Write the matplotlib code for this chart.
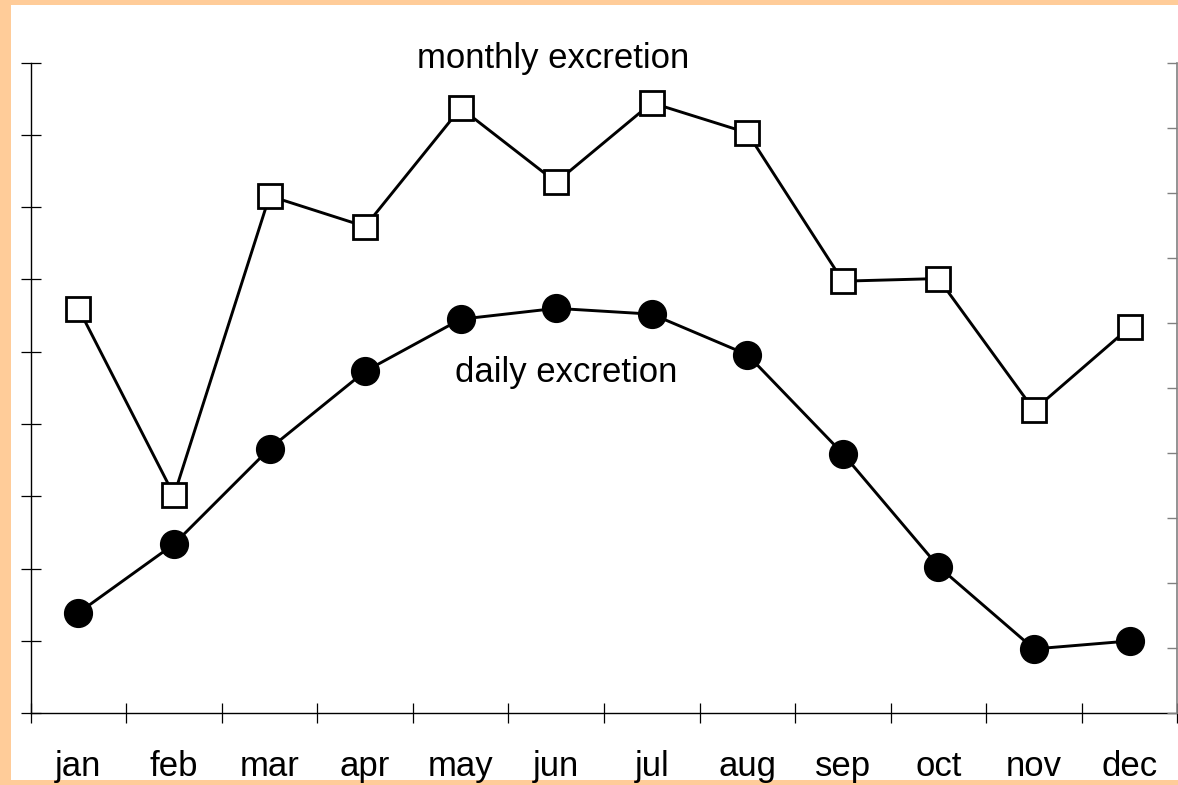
import numpy as np
import matplotlib.pyplot as plt
from matplotlib.patches import Rectangle

plt.rcParams['font.family'] = ['Liberation Sans', 'DejaVu Sans']

# 월별 데이터
months = ['jan', 'feb', 'mar', 'apr', 'may', 'jun',
          'jul', 'aug', 'sep', 'oct', 'nov', 'dec']
daily = [1.39, 2.34, 3.66, 4.73, 5.45, 5.60, 5.52, 4.96, 3.59, 2.03, 0.89, 1.00]      # 왼쪽 축 (0-9)
monthly = [6.22, 3.35, 7.95, 7.48, 9.30, 8.16, 9.38, 8.92, 6.64, 6.68, 4.66, 5.93]    # 오른쪽 축 (0-10)

W, H = 1178, 785
fig = plt.figure(figsize=(W / 100, H / 100), dpi=100, facecolor='#FFCC99')

# 흰 배경 (왼쪽/위/아래 주황 테두리만 남김)
bg = Rectangle((11 / W, 5 / H), 1 - 11 / W, 1 - 10 / H,
               transform=fig.transFigure, facecolor='white',
               edgecolor='none', zorder=-10)
fig.add_artist(bg)

x0, x1 = 30.7, 1177.3
y_top, y_bot = 62.5, 713.3
ax = fig.add_axes([x0 / W, 1 - y_bot / H, (x1 - x0) / W, (y_bot - y_top) / H])
ax.patch.set_alpha(0)
ax2 = ax.twinx()
ax2.patch.set_alpha(0)

x = np.arange(len(months)) + 0.5

ax.plot(x, daily, color='black', lw=2.1, marker='o', ms=20, mfc='black',
        mec='black', clip_on=False, zorder=3)
ax2.plot(x, monthly, color='black', lw=2.1, marker='s', ms=17.5, mfc='white',
         mec='black', mew=2, clip_on=False, zorder=3)

ax.set_xlim(0, 12)
ax.set_ylim(0, 9)
ax2.set_ylim(0, 10)

ax.set_xticks(np.arange(13))
ax.set_yticks(np.arange(10))
ax.set_xticklabels([])
ax.set_yticklabels([])
ax.tick_params(axis='both', direction='inout', length=15, width=0.9, color='black')
ax2.set_yticks(np.arange(11))
ax2.set_yticklabels([])
ax2.tick_params(axis='y', direction='in', length=7.5, width=1, color='#808080')

for s in ['top', 'right']:
    ax.spines[s].set_visible(False)
for s in ['top', 'left', 'bottom']:
    ax2.spines[s].set_visible(False)
ax.spines['left'].set_linewidth(1)
ax.spines['bottom'].set_linewidth(1)
ax2.spines['right'].set_color('#808080')
ax2.spines['right'].set_linewidth(1.2)

# 월 이름
tr = ax.get_xaxis_transform()
for xi, m in zip(x, months):
    ax.text(xi, -0.0963, m, transform=tr, ha='center', va='baseline', fontsize=25)

ax.text(5.47, 8.93, 'monthly excretion', ha='center', va='baseline', fontsize=25)
ax.text(5.60, 4.58, 'daily excretion', ha='center', va='baseline', fontsize=25)

fig.savefig('out.png', dpi=100, facecolor=fig.get_facecolor())
